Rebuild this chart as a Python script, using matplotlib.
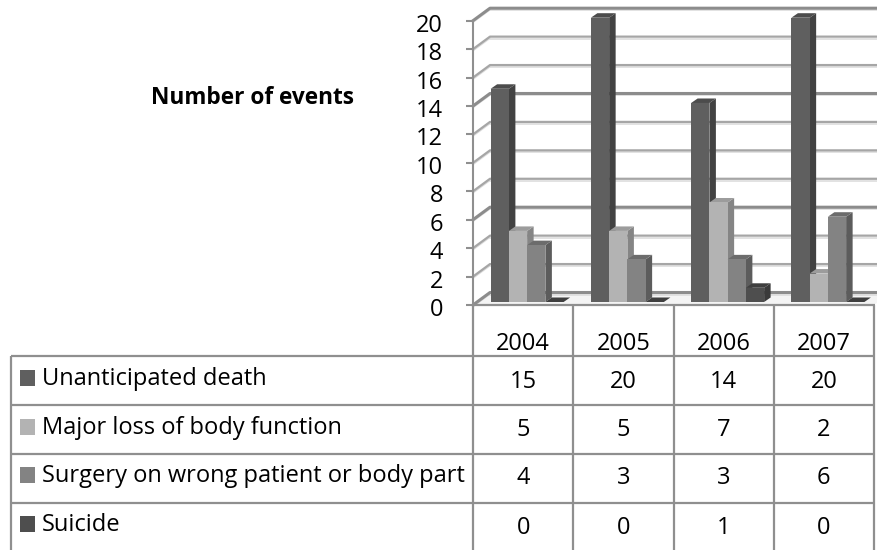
import matplotlib
matplotlib.use("Agg")
import matplotlib.pyplot as plt
from matplotlib.patches import Polygon, Rectangle
from matplotlib.lines import Line2D
from matplotlib.transforms import Affine2D, IdentityTransform

years = ["2004", "2005", "2006", "2007"]
series_names = ["Unanticipated death", "Major loss of body function",
                "Surgery on wrong patient or body part", "Suicide"]
unanticipated = [15, 20, 14, 20]
major_loss = [5, 5, 7, 2]
wrong_surgery = [4, 3, 3, 6]
suicide = [0, 0, 1, 0]
all_series = [unanticipated, major_loss, wrong_surgery, suicide]
y_ticks = list(range(0, 21, 2))

front = ["#5f5f5f", "#b3b3b3", "#838383", "#4e4e4e"]
side = ["#424242", "#858585", "#5c5c5c", "#3a3a3a"]
top = ["#4c4c4c", "#9c9c9c", "#6c6c6c", "#3f3f3f"]
line_col = "#8f8f8f"
FONT = "Open Sans"
FS = 17
W, H = 877, 550

plt.rcParams["font.family"] = [FONT, "DejaVu Sans"]
fig = plt.figure(figsize=(W / 100, H / 100), dpi=100)

L, R, B, T = 473, 874, 305, 20.7
ax = fig.add_axes([L / W, 1 - B / H, (R - L) / W, (B - T) / H])
ax.set_xlim(0, 4)
ax.set_ylim(0, 20)
ax.patch.set_visible(False)
for s in ["top", "right", "bottom"]:
    ax.spines[s].set_visible(False)
ax.spines["left"].set_color(line_col)
ax.spines["left"].set_linewidth(1.5)
ax.set_xticks([])
ax.set_yticks(y_ticks)
ax.tick_params(axis="y", length=5, width=1.5, color=line_col, pad=16.5, labelsize=FS)
shift_down = Affine2D().translate(0, -2)
for lab in ax.get_yticklabels():
    lab.set_transform(lab.get_transform() + shift_down)

BACK_DX, BACK_DY = 17, 12.5
BAR_LIFT = 3
D_DX, D_DY = 6.5, 4.5
ident = IdentityTransform()


def px(x, v, dx=0, dy=0):
    p = ax.transData.transform((x, v))
    return (p[0] + dx, p[1] + dy)


# floor
floor = Polygon([px(0, 0), px(0, 0, BACK_DX, BACK_DY), px(4, 0, BACK_DX, BACK_DY), px(4, 0)],
                closed=True, transform=ident, fc="#f4f4f4", ec="none", zorder=1, clip_on=False)
ax.add_patch(floor)

# back wall gridlines and left wall diagonals
dark_levels = {0, 6, 14, 20}
for v in y_ticks:
    col = "#8c8c8c" if v in dark_levels else "#a6a6a6"
    a = px(0, v)
    b = px(0, v, BACK_DX, BACK_DY)
    c = px(4.2, v, BACK_DX, BACK_DY)
    ax.add_line(Line2D([a[0], b[0]], [a[1] - 1.5, b[1] - 1.5], color="#dcdcdc", lw=1.2,
                       transform=ident, clip_on=False, zorder=1.2))
    ax.add_line(Line2D([b[0], c[0]], [b[1] - 2, c[1] - 2], color="#dddddd", lw=1.2,
                       transform=ident, clip_on=False, zorder=1.2))
    ax.add_line(Line2D([a[0], b[0], c[0]], [a[1], b[1], c[1]], color=col,
                       lw=2.2 if v in dark_levels else 1.6,
                       transform=ident, clip_on=False, zorder=1.4))

# bars
bar_w = 0.182
start = 0.176
lift = ax.transData + Affine2D().translate(0, BAR_LIFT)
z = 2
for j, vals in enumerate(all_series):
    xs = [i + start + j * bar_w for i in range(len(vals))]
    for x, v in zip(xs, vals):
        s = Polygon([px(x + bar_w, 0, 0, BAR_LIFT), px(x + bar_w, 0, D_DX, BAR_LIFT + D_DY),
                     px(x + bar_w, v, D_DX, BAR_LIFT + D_DY), px(x + bar_w, v, 0, BAR_LIFT)],
                    closed=True, transform=ident, fc=side[j], ec="none", zorder=z, clip_on=False)
        t = Polygon([px(x, v, 0, BAR_LIFT), px(x, v, D_DX, BAR_LIFT + D_DY),
                     px(x + bar_w, v, D_DX, BAR_LIFT + D_DY), px(x + bar_w, v, 0, BAR_LIFT)],
                    closed=True, transform=ident, fc=top[j], ec="none", zorder=z, clip_on=False)
        ax.add_patch(s)
        ax.add_patch(t)
    ax.bar(xs, vals, width=bar_w, align="edge", color=front[j], transform=lift,
           zorder=z + 0.1, clip_on=False)
    z += 0.2

# overlay: data table below the chart, in pixel units of the picture
tax = fig.add_axes([0, 0, 1, 1])
tax.set_xlim(0, W)
tax.set_ylim(H, 0)
tax.axis("off")
tax.patch.set_visible(False)

col_x = [L + (R - L) * i / 4 for i in range(5)]
row_y = [355.5, 405, 454, 503]
row_mid = [382, 430, 478, 528]
label_mid = [379, 428, 476, 525]
swatch_mid = [378, 427, 475, 524]
grid_kw = dict(color=line_col, lw=1.6, solid_capstyle="butt")
for yy in row_y:
    tax.plot([10.5, R + 1], [yy, yy], **grid_kw)
tax.plot([10.5, 10.5], [row_y[0], H], **grid_kw)
for i, xx in enumerate(col_x):
    tax.plot([xx, xx], [305, H], **grid_kw)
tax.plot([L, R + 1], [305, 305], **grid_kw)

for i, yr in enumerate(years):
    tax.text((col_x[i] + col_x[i + 1]) / 2, 344, yr, ha="center", va="center", fontsize=FS, color="black")
for r, vals in enumerate(all_series):
    tax.add_patch(Rectangle((20, swatch_mid[r] - 8), 15, 16, fc=front[r], ec="none"))
    tax.text(42, label_mid[r], series_names[r], ha="left", va="center", fontsize=FS, color="black")
    for i, v in enumerate(vals):
        tax.text((col_x[i] + col_x[i + 1]) / 2, row_mid[r], str(v), ha="center", va="center",
                 fontsize=FS, color="black")

tax.text(252.5, 98, "Number of events", ha="center", va="center", fontsize=16.3, fontweight="bold", color="black")

fig.savefig("out.png", dpi=100)
